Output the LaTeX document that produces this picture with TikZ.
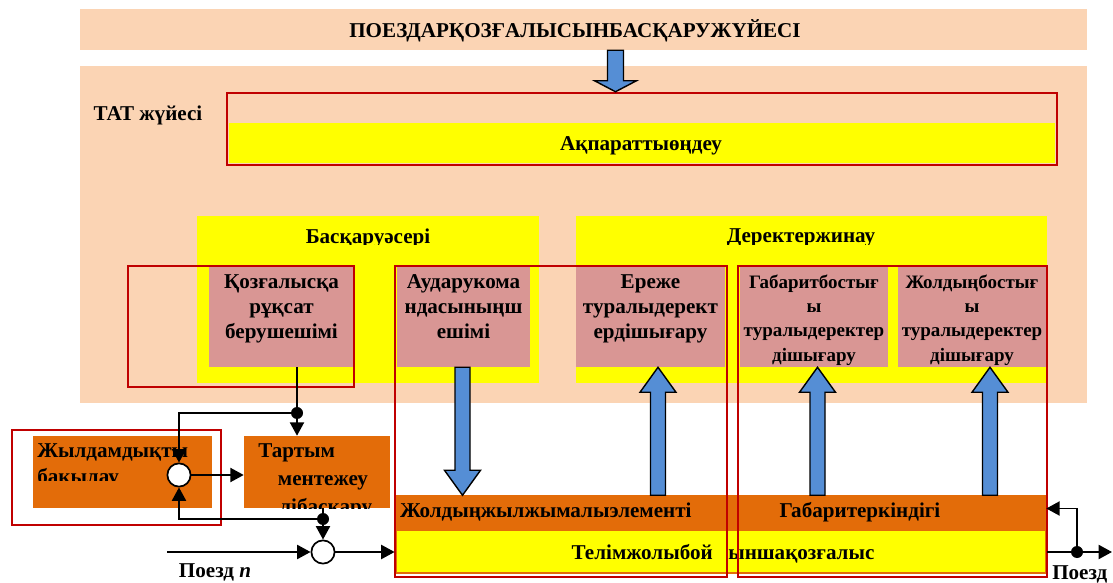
\documentclass[tikz,border=0pt]{standalone}
\usepackage{fontspec}
\setmainfont{Liberation Serif}
\usepackage{tikz}
\usetikzlibrary{arrows.meta,positioning,fit,calc}
\definecolor{peachc}{HTML}{FBD4B4}
\definecolor{yellowc}{HTML}{FFFF00}
\definecolor{pinkc}{HTML}{D99694}
\definecolor{orangec}{HTML}{E36C09}
\definecolor{redc}{HTML}{C00000}
\definecolor{bluec}{HTML}{558ED5}
% shaft half width, head half width, head length, tail, tip
\newcommand{\blockarrow}[5]{%
  \coordinate (ba-a) at #4;
  \coordinate (ba-b) at #5;
  \coordinate (ba-h) at ($(ba-b)!#3!(ba-a)$);
  \draw[bluearrow] ($(ba-a)!#1!90:(ba-b)$) -- ($(ba-h)!#1!90:(ba-b)$)
    -- ($(ba-h)!#2!90:(ba-b)$) -- (ba-b) -- ($(ba-h)!#2!-90:(ba-b)$)
    -- ($(ba-h)!#1!-90:(ba-b)$) -- ($(ba-a)!#1!-90:(ba-b)$) -- cycle;}

\begin{document}
\begin{tikzpicture}[x=0.025cm,y=-0.025cm,font=\bfseries\fontsize{15}{17.8}\selectfont]
\tikzstyle peach=[fill=peachc,inner sep=0pt]
\tikzstyle yellowbox=[fill=yellowc,inner sep=0pt]
\tikzstyle pinkbox=[fill=pinkc,inner sep=0pt]
\tikzstyle orangebox=[fill=orangec,inner sep=0pt]
\tikzstyle redframe=[draw=redc,line width=1.8pt,inner sep=0pt]
\tikzstyle bluearrow=[fill=bluec,draw=black,line width=1pt]
\tikzstyle boxtext=[align=center,inner sep=0pt]
\tikzstyle smalltext=[align=center,inner sep=0pt,font=\bfseries\fontsize{13.5}{17.4}\selectfont]
\tikzstyle summer=[circle,draw=black,fill=white,line width=1.2pt,minimum size=0.58cm,inner sep=0pt]
\tikzstyle junction=[circle,fill=black,minimum size=0.3cm,inner sep=0pt]
\tikzstyle wire=[line width=1.3pt]
\tikzstyle feed=[line width=1.3pt,-{Triangle[length=9.5pt,width=10pt]}]
 \fill[white] (0,0) rectangle (1113,583);
 \clip (0,0) rectangle (1113,583);
 % backgrounds
 \node[peach,fit={(80,9) (1087,50)}] (system) {};
 \node[boxtext] (systemtext) at (575,31) {ПОЕЗДАРҚОЗҒАЛЫСЫНБАСҚАРУЖҮЙЕСІ};
 \node[peach,fit={(80,66) (1087,403)}] (tat) {};
 \node[boxtext] (tatlabel) at (148,115) {ТАТ жүйесі};
 \node[yellowbox,fit={(229,123) (1055,163)}] (akparfill) {};
 \node[boxtext] (akpartext) at (641,146) {Ақпараттыөңдеу};
 \node[redframe,fit={(227,93) (1057,165)}] (akpar) {};
 \node[yellowbox,fit={(197,216) (539,383)}] (control) {};
 \node[yellowbox,fit={(576,216) (1047,383)}] (collect) {};
 \begin{scope}
  \clip (190,216) rectangle (1050,245);
  \node[boxtext] (controltitle) at (368,238) {Басқаруәсері};
  \node[boxtext] (collecttitle) at (801,238) {Деректержинау};
 \end{scope}
 % blocks
 \node[pinkbox,fit={(209,266) (354,367)}] (permit) {};
 \node[pinkbox,fit={(397,266) (530,367)}] (turnout) {};
 \node[pinkbox,fit={(576,266) (725,367)}] (rules) {};
 \node[pinkbox,fit={(740,266) (888,367)}] (gauge) {};
 \node[pinkbox,fit={(898,266) (1046,367)}] (track) {};
 \node[boxtext,below=6pt of permit.north] (permittext) {Қозғалысқа\\рұқсат\\берушешімі};
 \node[boxtext,below=6pt of turnout.north] (turnouttext) {Аударукома\\ндасыныңш\\ешімі};
 \node[boxtext,below=6pt of rules.north] (rulestext) {Ереже\\туралыдерект\\ердішығару};
 \node[smalltext,below=6pt of gauge.north] (gaugetext) {Габаритбостығ\\ы\\туралыдеректер\\дішығару};
 \node[smalltext,below=6pt of track.north] (tracktext) {Жолдыңбостығ\\ы\\туралыдеректер\\дішығару};
 \node[orangebox,fit={(33,436) (212,508)}] (speed) {};
 \node[orangebox,fit={(244,436) (390,508)}] (traction) {};
 \node[orangebox,fit={(396,495) (732,530)}] (element) {};
 \node[orangebox,fit={(732,495) (1046,530)}] (clearance) {};
 \node[yellowbox,draw=orangec,line width=2pt,fit={(396,530) (1046,573)}] (route) {};
 \node[boxtext,right=3pt of element.west] (elementtext) {Жолдыңжылжымалыэлементі};
 \node[boxtext] (clearancetext) at (860,512) {Габаритеркіндігі};
 \node[boxtext,anchor=base east] (routeleft) at (713,559) {Телімжолыбой};
 \node[boxtext,anchor=base west] (routeright) at (728,559) {ыншақозғалыс};
 \begin{scope}
  \clip (33,436) rectangle (212,480);
  \node[boxtext,anchor=north west,align=left,font=\bfseries\fontsize{15}{19}\selectfont] (speedtext) at (37,443) {Жылдамдықты\\бақылау};
 \end{scope}
 \begin{scope}
  \clip (244,436) rectangle (390,508);
  \node[boxtext,anchor=north west,align=left,font=\bfseries\fontsize{15}{20}\selectfont] (tractiontext) at (258,443) {Тартым\\\hspace*{14pt}ментежеу\\\hspace*{15pt}лібасқару};
 \end{scope}
 \node[redframe,fit={(128,266) (354,387)}] (permitframe) {};
 \node[redframe,fit={(395,266) (727,577)}] (leftframe) {};
 \node[redframe,fit={(738,266) (1047,577)}] (rightframe) {};
 \node[redframe,fit={(12,430) (221,525)}] (speedframe) {};
 % block arrows
 \coordinate (topin) at ($(system.south)+(32,0)$);
 \blockarrow{0.2cm}{0.525cm}{0.275cm}{(topin)}{(topin |- akpar.north)}
 \blockarrow{0.1875cm}{0.45cm}{0.625cm}{($(turnout.south)+(-1,0)$)}{($(turnout.south)+(-1,128)$)}
 \blockarrow{0.1875cm}{0.45cm}{0.625cm}{($(rules.south)+(7.5,128)$)}{($(rules.south)+(7.5,0)$)}
 \blockarrow{0.1875cm}{0.45cm}{0.625cm}{($(gauge.south)+(3.5,128)$)}{($(gauge.south)+(3.5,0)$)}
 \blockarrow{0.1875cm}{0.45cm}{0.625cm}{($(track.south)+(18,128)$)}{($(track.south)+(18,0)$)}
 % signal lines
 \node[junction] (split1) at (297,413) {};
 \node[summer] (sum1) at (179,475) {};
 \node[junction] (split2) at (323,519) {};
 \node[summer] (sum2) at (323,552) {};
 \node[junction] (split3) at (1077,552) {};
 \coordinate (trainin) at (167,552);
 \coordinate (trainout) at (1112,552);
 \draw[wire] (split1 |- permit.south) -- (split1);
 \draw[feed] (split1) -- (split1 |- traction.north);
 \draw[feed] (split1) -| (sum1);
 \draw[feed] (sum1) -- (sum1 -| traction.west);
 \draw[wire] (split2 |- traction.south) -- (split2);
 \draw[feed] (split2) -| (sum1);
 \draw[feed] (split2) -- (sum2);
 \draw[feed] (trainin) -- (sum2);
 \draw[feed] (sum2) -- (sum2 -| route.west);
 \draw[feed] (route.east |- split3) -- (trainout);
 \draw[feed] (split3) |- ($(clearance.east)+(0,-4)$);
 \node[boxtext] (trainlabel) at (215,572) {Поезд \textit{n}};
 \node[boxtext,anchor=west] (trainoutlabel) at (1052,574) {Поезд};
\end{tikzpicture}
\end{document}
